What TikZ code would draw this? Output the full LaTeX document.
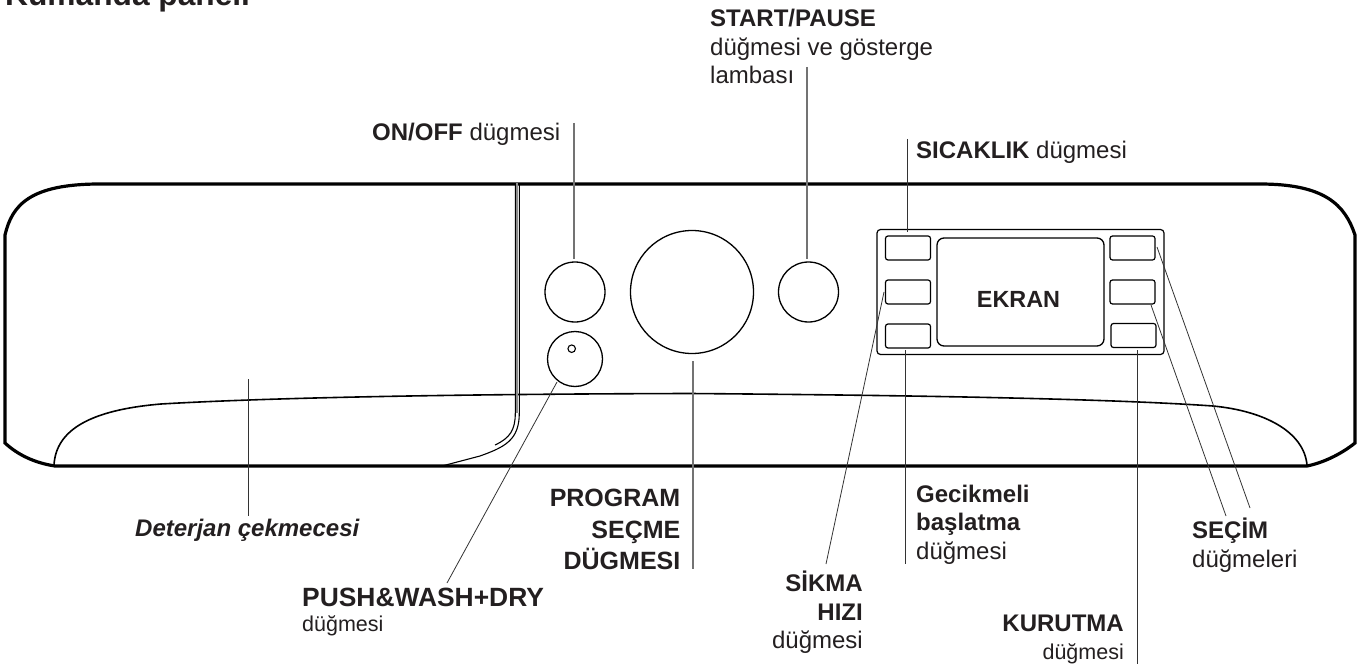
\documentclass[tikz,border=0pt]{standalone}
\usepackage{fontspec}
\setmainfont{Liberation Sans}
\usetikzlibrary{positioning,calc}
\definecolor{labelblack}{RGB}{35,31,32}

\begin{document}
\begin{tikzpicture}[x=1pt,y=-1pt,
    lbl/.style={inner sep=0pt,text=labelblack,font=\fontsize{24}{28.5}\selectfont},
    lblsub/.style={lbl,font=\fontsize{21.5}{26}\selectfont},
    knob/.style={circle,draw,line width=1.3pt,inner sep=0pt},
    keybtn/.style={rectangle,rounded corners=2.5pt,draw,line width=1.2pt,inner sep=0pt,minimum width=45pt,minimum height=24pt},
    panel/.style={line width=3.2pt},
    leader/.style={line width=0.8pt,black!80},
    leadergray/.style={line width=1.1pt,black!55}]

\useasboundingbox (0,0) rectangle (1368,666);

% Govde
\draw[panel] (5,235) .. controls (12,205) and (30,184) .. (100,184) -- (1260,184)
  .. controls (1325,184) and (1345,205) .. (1355,235) -- (1355,443)
  .. controls (1340,455) and (1322,463) .. (1307,466) -- (55,466)
  .. controls (35,463) and (18,455) .. (5,443) -- cycle;

% Cekmece
\draw[line width=1.6pt] (54,465) .. controls (56,430) and (90,410) .. (161,404)
  .. controls (280,397) and (480,394) .. (690,393.5)
  .. controls (880,395) and (1100,398) .. (1213,406)
  .. controls (1265,411) and (1304,432) .. (1307,465);
\draw[line width=2pt,black!45] (517.3,183) -- (517.3,413);
\draw[line width=1.1pt] (519.3,183) -- (519.3,413) .. controls (519.3,440) and (505,447) .. (480,456) -- (442,466);
\draw[line width=1.1pt] (515.3,183) -- (515.3,413) .. controls (515.3,430) and (510,438) .. (495,445);

% Dugmeler
\node (onoff) [knob,minimum size=60pt] at (575,292) {};
\node (push) [knob,minimum size=55pt] at (575,359) {};
\node (pushdot) [knob,line width=1.1pt,minimum size=7.5pt] at (571.7,348.7) {};
\node (prog) [knob,minimum size=123pt] at (692,292) {};
\node (start) [knob,minimum size=60pt] at (808.5,292) {};

% Ekran blogu
\node (frame) [rectangle,rounded corners=3.5pt,draw,line width=1.2pt,inner sep=0pt,minimum width=287pt,minimum height=125pt] at (1020.5,292) {};
\node (screen) [rectangle,rounded corners=7pt,draw,line width=1.3pt,inner sep=0pt,minimum width=167pt,minimum height=108pt] at (1020.5,292) {};
\node (ekran) [inner sep=0pt,anchor=base,font=\bfseries\fontsize{23.4}{27}\selectfont,text=labelblack] at (1018.5,307) {EKRAN};
\node (sicak) [keybtn] at (908,248) {};
\node (sikma) [keybtn] at (908,292) {};
\node (gecik) [keybtn] at (908,336) {};
\node (sec1) [keybtn] at (1132.5,248) {};
\node (sec2) [keybtn] at (1132.5,292) {};
\node (kurut) [keybtn] at (1133.5,335.5) {};

% Etiketler
\node (title) [lbl,anchor=base west,font=\bfseries\fontsize{31.7}{36}\selectfont] at (5,6) {Kumanda paneli};
\node (startlbl) [lbl,anchor=north west,align=left] at (710,9) {\textbf{START/PAUSE}\\düğmesi ve gösterge\\lambası};
\node (onofflbl) [lbl,anchor=base west] at (372,141) {\textbf{ON/OFF} dügmesi};
\node (sicaklbl) [lbl,anchor=base west] at (916,159) {\textbf{SICAKLIK} dügmesi};
\node (detlbl) [lbl,anchor=base west,font=\bfseries\itshape\fontsize{24}{28}\selectfont] at (135,536) {Deterjan çekmecesi};
\node (proglbl) [lbl,anchor=north east,align=right,font=\bfseries\fontsize{25}{31.5}\selectfont] at (680.5,489) {PROGRAM\\SEÇME\\DÜGMESI};
\node (gecilbl) [lbl,anchor=north west,align=left] at (916,484.5) {\textbf{Gecikmeli}\\\textbf{başlatma}\\düğmesi};
\node (sikmalbl) [lbl,anchor=north east,align=right] at (863,571) {\textbf{SİKMA}\\\textbf{HIZI}\\düğmesi};
\node (seclbl) [lbl,anchor=north west,align=left] at (1192,518) {\textbf{SEÇİM}\\düğmeleri};
\node (kurutlbl) [lbl,anchor=base east] at (1124,631) {\textbf{KURUTMA}};
\node (kurutsub) [lblsub,anchor=base east] at (1124,659) {düğmesi};
\node (pushlbl) [lbl,anchor=base west,font=\bfseries\fontsize{26.4}{30}\selectfont] at (302,606) {PUSH\&WASH+DRY};
\node (pushsub) [lblsub,anchor=base west] at (302,631) {düğmesi};

% Cizgiler
\coordinate (startup) at (807,67);
\coordinate (starttip) at (807,259);
\coordinate (onoffup) at (574,123);
\coordinate (onofftip) at (574,259);
\coordinate (sicakup) at (907,139);
\coordinate (sicaktip) at (907,232);
\coordinate (dettip) at (248,379);
\coordinate (detlow) at (248,516);
\coordinate (progtip) at (693,361);
\coordinate (proglow) at (693,569);
\coordinate (pushlow) at (447,583);
\coordinate (pushtip) at (557,382);
\coordinate (sikmatip) at (884,292);
\coordinate (sikmalow) at (826,564);
\coordinate (geciktip) at (905.5,350);
\coordinate (geciklow) at (905.5,564);
\coordinate (kuruttip) at (1137,350);
\coordinate (kurutlow) at (1137,664);
\coordinate (sec1tip) at (1157,247);
\coordinate (sec1low) at (1250,508);
\coordinate (sec2tip) at (1151,305);
\coordinate (sec2low) at (1226,516);
\draw[leadergray] (startup) -- (starttip);
\draw[leadergray] (onoffup) -- (onofftip);
\draw[leader] (sicakup) -- (sicaktip);
\draw[leader] (dettip) -- (detlow);
\draw[leadergray] (progtip) -- (proglow);
\draw[leader] (pushlow) -- (pushtip);
\draw[leader] (sikmatip) -- (sikmalow);
\draw[leader] (geciktip) -- (geciklow);
\draw[leader] (kuruttip) -- (kurutlow);
\draw[leader] (sec1tip) -- (sec1low);
\draw[leader] (sec2tip) -- (sec2low);

\end{tikzpicture}
\end{document}
